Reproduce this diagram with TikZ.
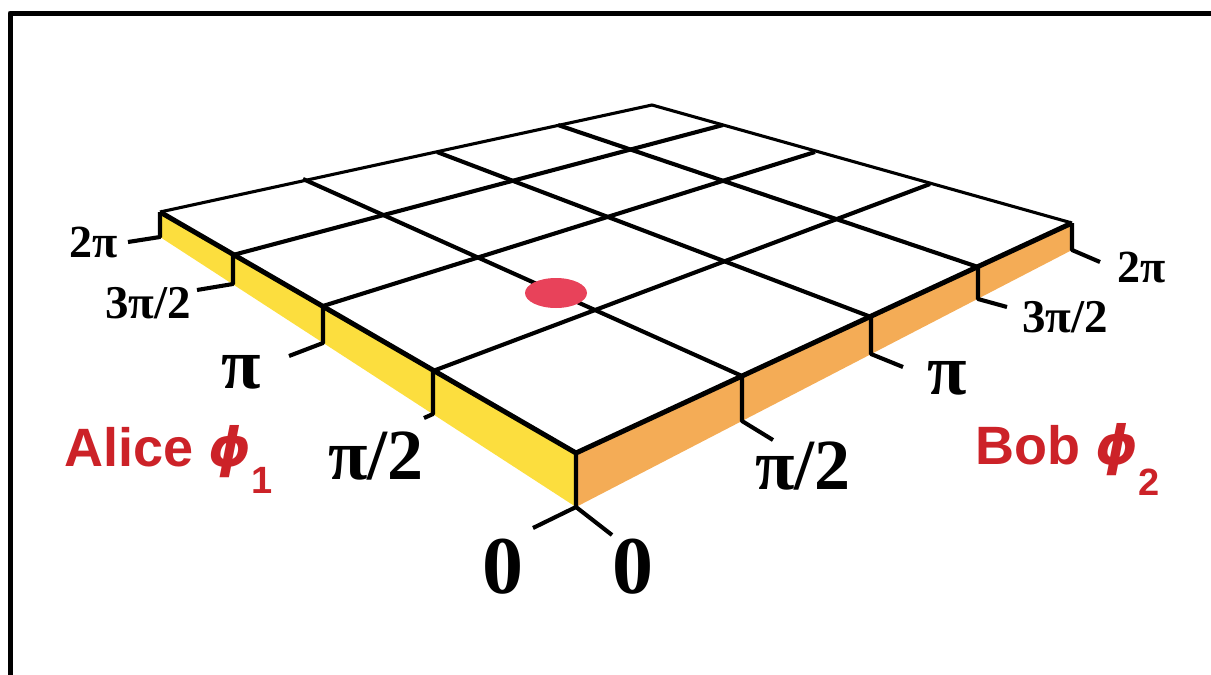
\documentclass[tikz,border=0pt]{standalone}
\usepackage{fontspec}
\setmainfont{Liberation Serif}
\newfontfamily\namefont{Liberation Sans}
\newfontfamily\phifont{DejaVu Sans}
\definecolor{sideyellow}{RGB}{252,222,62}
\definecolor{sideorange}{RGB}{244,172,86}
\definecolor{namered}{RGB}{204,34,40}
\definecolor{dotred}{RGB}{232,66,90}

\begin{document}
\begin{tikzpicture}[x=1pt, y=-1pt, line join=round]
		\tikzstyle{gridline} = [line width=4.1pt]
		\tikzstyle{backline} = [line width=3.1pt]
		\tikzstyle{frontline} = [line width=5pt]
		\tikzstyle{tick} = [line width=4.1pt]
		\tikzstyle{lbl} = [inner sep=0pt, font=\bfseries]
		\tikzstyle{player} = [anchor=base west, inner sep=0pt, text=namered, font=\namefont\bfseries\fontsize{54}{54}\selectfont]
		\useasboundingbox (0,0) rectangle (1211,675);
		\clip (0,0) rectangle (1211,675);
		\draw [line width=5pt] (10,700) -- (10,13) -- (1230,13);
		% corners of the top face
		\coordinate (L) at (160,212);
		\coordinate (F) at (576,453);
		\coordinate (R) at (1072,223);
		\coordinate (B) at (652,105);
		% corners under the slab
		\coordinate (Lb) at (160,237);
		\coordinate (Fb) at (576,507);
		\coordinate (Rb) at (1072,250);
		% Alice edge and the back edge facing it
		\coordinate (a1) at (433,371);
		\coordinate (a2) at (323,306);
		\coordinate (a3) at (233,255);
		\coordinate (c1) at (930,184);
		\coordinate (c2) at (815,152);
		\coordinate (c3) at (723,125);
		\coordinate (a1b) at (433,414);
		\coordinate (a2b) at (323,343);
		\coordinate (a3b) at (233,284);
		% Bob edge and the back edge facing it
		\coordinate (b1) at (742,376);
		\coordinate (b2) at (871,317);
		\coordinate (b3) at (978,267);
		\coordinate (d1) at (303,179);
		\coordinate (d2) at (437,152);
		\coordinate (d3) at (558,125);
		\coordinate (b1b) at (742,421);
		\coordinate (b2b) at (871,354);
		\coordinate (b3b) at (978,299);
		% tick ends
		\coordinate (t0) at (533,528);
		\coordinate (t1) at (424,418);
		\coordinate (t2) at (289,356);
		\coordinate (t3) at (197,290);
		\coordinate (t4) at (128,242);
		\coordinate (s0) at (612,535);
		\coordinate (s1) at (773,440);
		\coordinate (s2) at (903,367);
		\coordinate (s3) at (1007,307);
		\coordinate (s4) at (1100,262);
		% slab sides
		\fill [sideyellow] (L) -- (F) -- (Fb) -- (Lb) -- cycle;
		\fill [sideorange] (F) -- (R) -- (Rb) -- (Fb) -- cycle;
		% grid
		\draw [backline] (L) -- (B) -- (R);
		\draw [gridline] (a1) edge (c1);
		\draw [gridline] (a2) edge (c2);
		\draw [gridline] (a3) edge (c3);
		\draw [gridline] (b1) edge (d1);
		\draw [gridline] (b2) edge (d2);
		\draw [gridline] (b3) edge (d3);
		\draw [frontline] (L) -- (F) -- (R);
		% steps and ticks
		\draw [tick] (L) -- (Lb) -- (t4);
		\draw [tick] (a3) -- (a3b) -- (t3);
		\draw [tick] (a2) -- (a2b) -- (t2);
		\draw [tick] (a1) -- (a1b) -- (t1);
		\draw [tick] (F) -- (Fb) -- (t0);
		\draw [tick] (Fb) -- (s0);
		\draw [tick] (b1) -- (b1b) -- (s1);
		\draw [tick] (b2) -- (b2b) -- (s2);
		\draw [tick] (b3) -- (b3b) -- (s3);
		\draw [tick] (R) -- (Rb) -- (s4);
		\fill [dotred] (556,293) ellipse [x radius=31pt, y radius=15pt];
		% Alice values
		\node [lbl, font=\bfseries\fontsize{46}{46}\selectfont] (al4) at (94,242) {2π};
		\node [lbl, font=\bfseries\fontsize{47}{47}\selectfont] (al3) at (148,303) {3π/2};
		\node [lbl, font=\bfseries\fontsize{72}{72}\selectfont] (al2) at (241,372) {π};
		\node [lbl, font=\bfseries\fontsize{72}{72}\selectfont] (al1) at (376,456) {π/2};
		\node [lbl, font=\bfseries\fontsize{82}{82}\selectfont] (al0) at (503,567) {0};
		% Bob values
		\node [lbl, font=\bfseries\fontsize{82}{82}\selectfont] (bo0) at (633,567) {0};
		\node [lbl, font=\bfseries\fontsize{72}{72}\selectfont] (bo1) at (803,466) {π/2};
		\node [lbl, font=\bfseries\fontsize{72}{72}\selectfont] (bo2) at (947,378) {π};
		\node [lbl, font=\bfseries\fontsize{47}{47}\selectfont] (bo3) at (1065,317) {3π/2};
		\node [lbl, font=\bfseries\fontsize{46}{46}\selectfont] (bo4) at (1142,267) {2π};
		% players
		\node [player] (alice) at (64,466) {Alice {\phifont\itshape ϕ}\raisebox{-27pt}{\fontsize{38}{38}\selectfont 1}};
		\node [player] (bob) at (975,464) {Bob {\phifont\itshape ϕ}\raisebox{-31pt}{\fontsize{38}{38}\selectfont 2}};
\end{tikzpicture}
\end{document}
